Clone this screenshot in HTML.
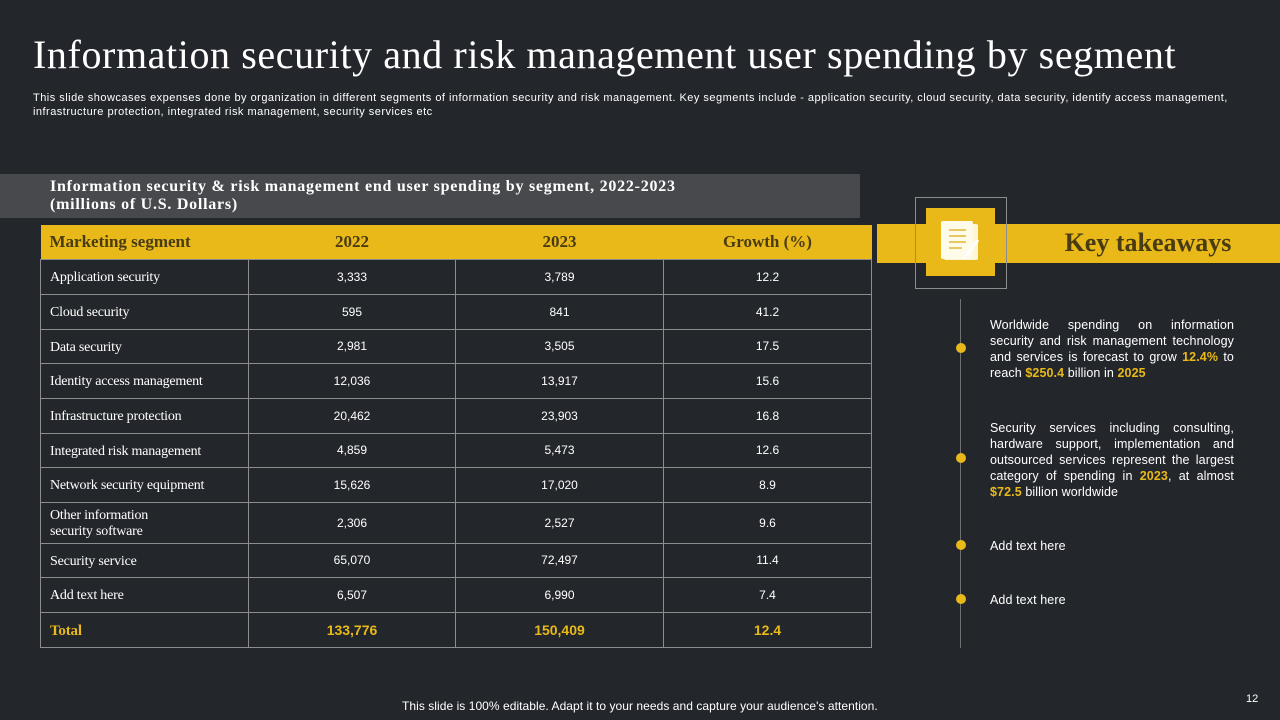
<!DOCTYPE html>
<html><head><meta charset="utf-8">
<style>
*{margin:0;padding:0;box-sizing:border-box}
body{width:1280px;height:720px;background:#23262b;position:relative;overflow:hidden;font-family:"Liberation Sans",sans-serif;color:#fff}
.abs{position:absolute}
h1{position:absolute;left:33px;top:31px;font-family:"Liberation Serif",serif;font-weight:normal;font-size:40px;letter-spacing:0.6px;white-space:nowrap;color:#fff}
.sub{left:33px;top:91px;width:1200px;font-size:11px;line-height:14px;letter-spacing:0.48px;color:#fff}
.tbox{left:0;top:174px;width:860px;height:44px;background:#47494d;padding:4px 0 0 50px;font-family:"Liberation Serif",serif;font-weight:bold;font-size:16px;letter-spacing:0.75px;line-height:18px}
table{position:absolute;left:40px;top:225px;width:831px;border-collapse:collapse;table-layout:fixed}
td{border:1.5px solid #8c8c8c;font-size:12px;text-align:center;color:#fff;vertical-align:middle}
td.n{font-family:"Liberation Serif",serif;font-size:14px;text-align:left;padding-left:9px;padding-top:3px;line-height:16px;letter-spacing:-0.2px}
tr.h td{background:#e8b919;border:none;color:#4a3c12;font-family:"Liberation Serif",serif;font-weight:bold;font-size:17px;height:34px}
tr.h td.n{font-size:17px;letter-spacing:0;padding-top:0}
tr.t td{color:#e8b919;font-weight:bold;font-size:14px}
.bar{left:877px;top:224px;width:403px;height:39px;background:#e8b919}
.kt{left:1020px;top:228px;width:256px;text-align:center;font-family:"Liberation Serif",serif;font-weight:bold;font-size:26px;color:#4a3c12}
.ib{left:915px;top:197px;width:92px;height:92px;border:1px solid #8c8c8c}
.iy{left:926px;top:208px;width:69px;height:68px;background:#e8b919}
.vl{left:960px;top:299px;width:1px;height:349px;background:#6f6f6f}
.dot{width:10px;height:10px;border-radius:5px;background:#e8b919;left:956px}
.tx{left:990px;width:244px;font-size:12.5px;line-height:16px;text-align:justify;color:#fff;letter-spacing:0.1px}
.y{color:#e8b919;font-weight:bold}
.foot{left:402px;top:699px;font-size:12px;color:#fff;letter-spacing:0.05px}
.pg{left:1246px;top:693px;font-size:11px;color:#fff}
</style></head><body>
<h1>Information security and risk management user spending by segment</h1>
<div class="abs sub">This slide showcases expenses done by organization in different segments of information security and risk management. Key segments include - application security, cloud security, data security, identify access management, infrastructure protection, integrated risk management, security services etc</div>
<div class="abs tbox">Information security &amp; risk management end user spending by segment, 2022-2023<br>(millions of U.S. Dollars)</div>
<table>
<colgroup><col style="width:208px"><col style="width:207px"><col style="width:208px"><col style="width:208px"></colgroup>
<tr class="h"><td class="n">Marketing segment</td><td>2022</td><td>2023</td><td>Growth (%)</td></tr>
<tr style="height:35px"><td class="n">Application security</td><td>3,333</td><td>3,789</td><td>12.2</td></tr>
<tr style="height:35px"><td class="n">Cloud security</td><td>595</td><td>841</td><td>41.2</td></tr>
<tr style="height:34px"><td class="n">Data security</td><td>2,981</td><td>3,505</td><td>17.5</td></tr>
<tr style="height:35px"><td class="n">Identity access management</td><td>12,036</td><td>13,917</td><td>15.6</td></tr>
<tr style="height:35px"><td class="n">Infrastructure protection</td><td>20,462</td><td>23,903</td><td>16.8</td></tr>
<tr style="height:34px"><td class="n">Integrated risk management</td><td>4,859</td><td>5,473</td><td>12.6</td></tr>
<tr style="height:35px"><td class="n">Network security equipment</td><td>15,626</td><td>17,020</td><td>8.9</td></tr>
<tr style="height:41px"><td class="n">Other information<br>security software</td><td>2,306</td><td>2,527</td><td>9.6</td></tr>
<tr style="height:34px"><td class="n">Security service</td><td>65,070</td><td>72,497</td><td>11.4</td></tr>
<tr style="height:35px"><td class="n">Add text here</td><td>6,507</td><td>6,990</td><td>7.4</td></tr>
<tr class="t" style="height:35px"><td class="n" style="color:#e8b919;font-weight:bold;font-size:15px">Total</td><td>133,776</td><td>150,409</td><td>12.4</td></tr>
</table>
<div class="abs bar"></div>
<div class="abs kt">Key takeaways</div>
<div class="abs ib"></div>
<div class="abs iy">
<svg width="69" height="68" viewBox="0 0 69 68"><rect x="18" y="16" width="34" height="36" rx="2" fill="#fff6d8"/><rect x="15" y="13" width="32" height="38" rx="2" fill="#fffbe9"/><g stroke="#e8c860" stroke-width="2"><line x1="23" y1="22" x2="40" y2="22"/><line x1="23" y1="28" x2="40" y2="28"/><line x1="23" y1="34" x2="40" y2="34"/><line x1="23" y1="40" x2="36" y2="40"/></g><line x1="38" y1="50" x2="52" y2="32" stroke="#fff" stroke-width="3"/></svg></div>
<div class="abs vl"></div>
<div class="abs dot" style="top:343px"></div>
<div class="abs dot" style="top:453px"></div>
<div class="abs dot" style="top:540px"></div>
<div class="abs dot" style="top:594px"></div>
<div class="abs tx" style="top:317px">Worldwide spending on information security and risk management technology and services is forecast to grow <span class="y">12.4%</span> to reach <span class="y">$250.4</span> billion in <span class="y">2025</span></div>
<div class="abs tx" style="top:420px">Security services including consulting, hardware support, implementation and outsourced services represent the largest category of spending in <span class="y">2023</span>, at almost <span class="y">$72.5</span> billion worldwide</div>
<div class="abs tx" style="top:538px">Add text here</div>
<div class="abs tx" style="top:592px">Add text here</div>
<div class="abs foot">This slide is 100% editable. Adapt it to your needs and capture your audience's attention.</div>
<div class="abs pg">12</div>
</body></html>
